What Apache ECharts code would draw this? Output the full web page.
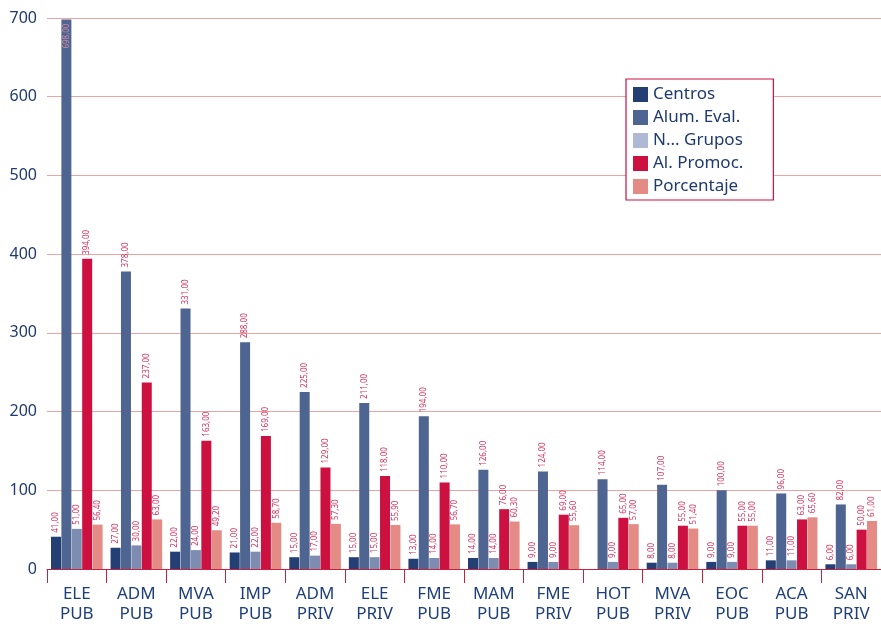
<!DOCTYPE html>
<html><head><meta charset="utf-8">
<script src="https://cdn.jsdelivr.net/npm/echarts@6/dist/echarts.min.js"></script>
<style>html,body{margin:0;padding:0;background:#fff}#c{width:881px;height:624px}</style>
</head><body><div id="c"></div>
<script>
const categories = ['ELE\nPUB','ADM\nPUB','MVA\nPUB','IMP\nPUB','ADM\nPRIV','ELE\nPRIV','FME\nPUB','MAM\nPUB','FME\nPRIV','HOT\nPUB','MVA\nPRIV','EOC\nPUB','ACA\nPUB','SAN\nPRIV'];
const centros    = [41, 27, 22, 21, 15, 15, 13, 14, 9, null, 8, 9, 11, 6];
const alumEval   = [698, 378, 331, 288, 225, 211, 194, 126, 124, 114, 107, 100, 96, 82];
const grupos     = [51, 30, 24, 22, 17, 15, 14, 14, 9, 9, 8, 9, 11, 6];
const alPromoc   = [394, 237, 163, 169, 129, 118, 110, 76, 69, 65, 55, 55, 63, 50];
const porcentaje = [56.4, 63, 49.2, 58.7, 57.3, 55.9, 56.7, 60.3, 55.6, 57, 51.4, 55, 65.6, 61];
const yTicks = [0, 100, 200, 300, 400, 500, 600, 700];
const seriesNames = ['Centros', 'Alum. Eval.', 'N... Grupos', 'Al. Promoc.', 'Porcentaje'];
const colors = ['#243f73', '#4e6591', '#7c8db1', '#cc1040', '#e38b84'];
const legendColors = ['#243f73', '#4e6591', '#b0b9d4', '#cc1040', '#e38b84'];

const FONT = 'Noto Sans';
const fmt = v => v.toFixed(2).replace('.', ',');
const labelCfg = {
  show: true, position: 'top', rotate: 90, align: 'left', verticalAlign: 'middle',
  distance: 4, fontSize: 8, color: '#d4305a', fontFamily: FONT,
  formatter: p => (p.value == null ? '' : fmt(p.value))
};
const yMax = yTicks[yTicks.length - 1];
function mk(i, arr) {
  return {
    name: seriesNames[i], type: 'bar', barWidth: 10, barGap: '4%',
    itemStyle: { color: colors[i] },
    label: labelCfg,
    data: arr.map(v => v != null && v >= yMax - 40 ? { value: Math.min(v, yMax), label: { position: 'insideTop', align: 'right', distance: 4, formatter: () => fmt(v), color: '#d98aa0' } } : v)
  };
}
const chart = echarts.init(document.getElementById('c'), null, { renderer: 'canvas' });
chart.setOption({
  animation: false,
  color: colors,
  grid: { left: 47, right: 0, top: 18, bottom: 55, containLabel: false },
  legend: {
    orient: 'vertical', left: 626, top: 79, itemWidth: 15, itemHeight: 15, itemGap: 6,
    icon: 'rect',
    textStyle: { fontSize: 17, color: '#1e3a6e', fontFamily: FONT, padding: [0, 0, 0, 0] },
    backgroundColor: '#fff', borderColor: '#cc1040', borderWidth: 1.2,
    padding: [7, 30, 5, 7],
    data: seriesNames.map((n, i) => ({ name: n, itemStyle: { color: legendColors[i] } }))
  },
  xAxis: {
    type: 'category', data: categories,
    axisLine: { lineStyle: { color: '#c8203f', width: 1.2 } },
    axisTick: { show: true, length: 14, lineStyle: { color: '#c8203f' } },
    axisLabel: { fontSize: 17, color: '#1e3f7a', fontFamily: FONT, lineHeight: 20, margin: 15, interval: 0 }
  },
  yAxis: {
    type: 'value', min: 0, max: yMax, interval: 100,
    axisLine: { show: false }, axisTick: { show: false },
    axisLabel: { fontSize: 16, color: '#1e3a6e', fontFamily: FONT, margin: 10 },
    splitLine: { lineStyle: { color: '#eba3a3', width: 1.2 } }
  },
  series: [mk(0, centros), mk(1, alumEval), mk(2, grupos), mk(3, alPromoc), mk(4, porcentaje)]
});
</script></body></html>
